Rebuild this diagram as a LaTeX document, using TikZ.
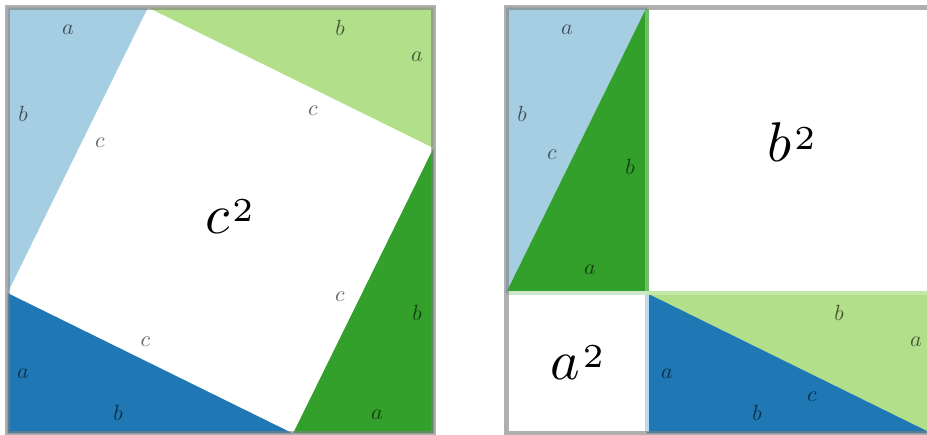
\documentclass[tikz,border=0pt]{standalone}
\newcommand{\sqlbl}[1]{$#1\mkern1mu\raise0.22em\hbox{\fontsize{6}{6}\selectfont 2}$}
\begin{document}
\begin{tikzpicture}[x=1pt,y=-1pt]
  % colors
  \definecolor{pLightBlue}{HTML}{A6CEE3}
  \definecolor{pBlue}{HTML}{1F78B4}
  \definecolor{pLightGreen}{HTML}{B2DF8A}
  \definecolor{pGreen}{HTML}{33A02C}
  \tikzset{
    side/.style={text=black,text opacity=0.6,scale=2.2,inner sep=0},
    area/.style={scale=5.6,inner sep=0,anchor=base west},
    frame/.style={draw=gray,draw opacity=0.62,line width=5pt},
    seam/.style={line width=4pt}
  }
  \useasboundingbox (0,0) rectangle (927,435);
  \clip (0,0) rectangle (927,435);
  % left square
  \fill[pLightBlue] (7.5,7.5) -- (148,7.5) -- (7.5,293) -- cycle;
  \fill[pLightGreen] (148,7.5) -- (433.5,7.5) -- (433.5,148) -- cycle;
  \fill[pGreen] (433.5,148) -- (433.5,433.5) -- (293,433.5) -- cycle;
  \fill[pBlue] (7.5,293) -- (293,433.5) -- (7.5,433.5) -- cycle;
  \draw[frame] (7.5,7.5) rectangle (433.5,433.5);
  % right square
  \fill[pLightBlue] (506,7.5) -- (646.5,7.5) -- (506,293) -- cycle;
  \fill[pGreen] (646.5,7.5) -- (646.5,293) -- (506,293) -- cycle;
  \fill[pLightGreen] (646.5,293) -- (932,293) -- (932,433.5) -- cycle;
  \fill[pBlue] (646.5,293) -- (932,433.5) -- (646.5,433.5) -- cycle;
  \draw[seam,color=pGreen!70!white] (646.5,9) -- (646.5,293);
  \draw[seam,color=pBlue!28!white] (646.5,293) -- (646.5,432);
  \draw[seam,color=pGreen!25!white] (507,293) -- (646.5,293);
  \draw[seam,color=pLightGreen!75!white] (646.5,293) -- (932,293);
  \draw[frame] (506,7.5) rectangle (932,433.5);
  % labels
  \foreach \x/\y/\t [count=\i] in {68/30/a, 23/114/b, 100/143/c,
      340/28/b, 417/57/a, 313/111/c,
      340/297/c, 417/313/b, 377/415/a,
      23/374/a, 118/413/b, 145.5/342/c,
      567/30/a, 522/114/b, 552/155/c,
      630/167/b, 590/270/a,
      839/313/b, 916/342/a,
      667/374/a, 757/413/b, 812/397/c}
    \node[side] (lbl\i) at (\x,\y) {$\t$};
  \node[area] (csq) at (204,234) {\sqlbl{c}};
  \node[area] (bsq) at (766,162) {\sqlbl{b}};
  \node[area] (asq) at (549,380) {\sqlbl{a}};
\end{tikzpicture}
\end{document}
